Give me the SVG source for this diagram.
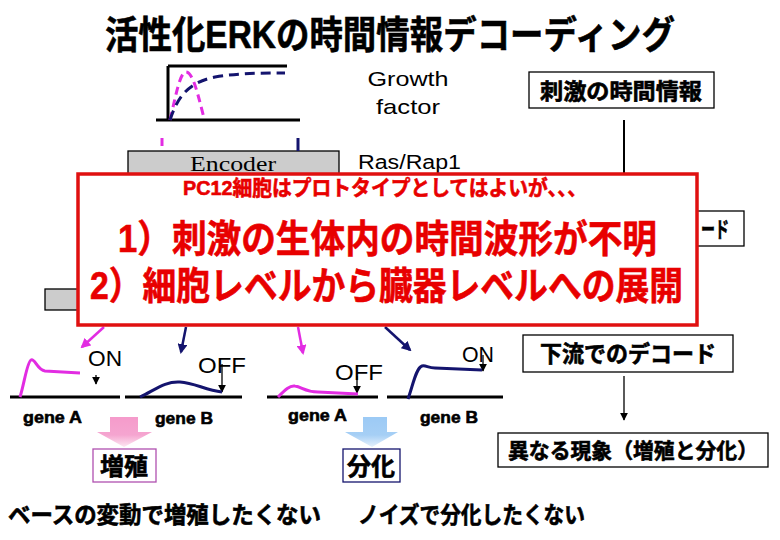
<svg xmlns="http://www.w3.org/2000/svg" width="780" height="540" viewBox="0 0 780 540">
<style>
.jp{font-family:"Liberation Sans","Noto Sans CJK JP",sans-serif;font-weight:bold;stroke:#000;stroke-width:0.6}
.en{font-family:"Liberation Sans","Noto Sans CJK JP",sans-serif}
.box{fill:#fff;stroke:#000;stroke-width:1.3}
.gray{fill:#cccccc;stroke:#000;stroke-width:1.3}
.mag{stroke:#e22ce2;fill:none;stroke-width:3}
.nav{stroke:#14146e;fill:none;stroke-width:3}
.red{fill:#e80000;stroke:#e80000}
.ax{stroke:#000;stroke-width:3}
</style>
<defs>
<marker id="mM" viewBox="0 0 10 10" refX="8" refY="5" markerWidth="4" markerHeight="4" orient="auto"><path d="M0,0 L10,5 L0,10 z" fill="#e22ce2"/></marker>
<marker id="mN" viewBox="0 0 10 10" refX="8" refY="5" markerWidth="4" markerHeight="4" orient="auto"><path d="M0,0 L10,5 L0,10 z" fill="#14146e"/></marker>
<marker id="mK" viewBox="0 0 10 10" refX="9" refY="5" markerWidth="6" markerHeight="6" orient="auto"><path d="M0,0 L10,5 L0,10 z" fill="#000"/></marker>
<linearGradient id="gP" x1="0" y1="0" x2="0" y2="1"><stop offset="0" stop-color="#f59bcb"/><stop offset="0.6" stop-color="#f5a5d0"/><stop offset="1" stop-color="#fde8f2"/></linearGradient>
<linearGradient id="gB" x1="0" y1="0" x2="0" y2="1"><stop offset="0" stop-color="#9ccaf5"/><stop offset="0.6" stop-color="#a6cff5"/><stop offset="1" stop-color="#e6f1fc"/></linearGradient>
</defs>
<rect width="780" height="540" fill="#fff"/>

<text class="jp" x="105" y="48" font-size="38" textLength="570" lengthAdjust="spacingAndGlyphs">活性化ERKの時間情報デコーディング</text>

<g id="stimulus-graph">
<line class="ax" x1="168" y1="66" x2="287" y2="66"/>
<line class="ax" x1="168" y1="66" x2="168" y2="120"/>
<line class="ax" x1="156" y1="120" x2="300" y2="120"/>
<path class="mag" d="M170,120 C176,95 180,72 186,72 C193,72 198,95 204,118" stroke-dasharray="8,5"/>
<path class="nav" d="M170,120 C178,95 190,82 215,77 C240,73 260,73 285,73" stroke-dasharray="10,6"/>
</g>

<g id="growth-factor">
<text class="en" x="408" y="86" font-size="21" text-anchor="middle" textLength="81" lengthAdjust="spacingAndGlyphs">Growth</text>
<text class="en" x="408" y="114" font-size="21" text-anchor="middle" textLength="64" lengthAdjust="spacingAndGlyphs">factor</text>
</g>

<g id="encoder">
<rect class="gray" x="128" y="151" width="211" height="30"/>
<text x="233" y="171" font-family="'Liberation Serif',serif" font-size="21" text-anchor="middle" textLength="86" lengthAdjust="spacingAndGlyphs">Encoder</text>
</g>
<g id="ras">
<text class="en" x="358" y="169" font-size="20" textLength="103" lengthAdjust="spacingAndGlyphs">Ras/Rap1</text>
</g>

<g id="stim-info">
<rect class="box" x="529" y="72" width="185" height="36"/>
<text class="jp" x="621" y="99" font-size="22" text-anchor="middle" textLength="162" lengthAdjust="spacingAndGlyphs">刺激の時間情報</text>
</g>

<g id="upstream-decode">
<rect class="box" x="540" y="211" width="204" height="35"/>
<text class="jp" x="701" y="237" font-size="22" textLength="28" lengthAdjust="spacingAndGlyphs">ード</text>
</g>

<g id="decoder">
<rect class="gray" x="45" y="289" width="300" height="21"/>
</g>

<g id="connectors">
<line x1="624" y1="120" x2="624" y2="176" stroke="#000" stroke-width="2"/>
<line x1="162" y1="138" x2="162" y2="151" stroke="#e22ce2" stroke-width="3" stroke-dasharray="8,5"/>
<line x1="298" y1="138" x2="298" y2="151" stroke="#14146e" stroke-width="3"/>
<line x1="104" y1="327" x2="82" y2="347" stroke="#e22ce2" stroke-width="2.5" marker-end="url(#mM)"/>
<line x1="186" y1="327" x2="181" y2="352" stroke="#14146e" stroke-width="2.5" marker-end="url(#mN)"/>
<line x1="298" y1="327" x2="303" y2="353" stroke="#e22ce2" stroke-width="2.5" marker-end="url(#mM)"/>
<line x1="385" y1="327" x2="410" y2="350" stroke="#14146e" stroke-width="2.5" marker-end="url(#mN)"/>
<line x1="96" y1="375" x2="96" y2="384" stroke="#000" stroke-width="1.3" marker-end="url(#mK)"/>
<line x1="222" y1="364" x2="222" y2="392" stroke="#000" stroke-width="1.3" marker-end="url(#mK)"/>
<line x1="357" y1="376" x2="357" y2="393" stroke="#000" stroke-width="1.3" marker-end="url(#mK)"/>
<line x1="483" y1="355" x2="483" y2="371" stroke="#000" stroke-width="1.3" marker-end="url(#mK)"/>
<line x1="624" y1="376" x2="624" y2="420" stroke="#000" stroke-width="1.3" marker-end="url(#mK)"/>
<polygon points="110,417 138,417 138,432 152,432 124,447 97,432 110,432" fill="url(#gP)"/>
<polygon points="363,417 387,417 387,432 398,432 372,447 345,432 363,432" fill="url(#gB)"/>
</g>

<g id="warning">
<rect x="78" y="174" width="619" height="151" fill="#fff" stroke="#e01010" stroke-width="3.5"/>
<text class="jp red" x="385" y="195" font-size="21" text-anchor="middle" textLength="404" lengthAdjust="spacingAndGlyphs" stroke-width="0.4">PC12細胞はプロトタイプとしてはよいが、、、</text>
<text class="jp red" x="118" y="252" font-size="38" textLength="539" lengthAdjust="spacingAndGlyphs" stroke-width="0.8">1）刺激の生体内の時間波形が不明</text>
<text class="jp red" x="90" y="299" font-size="38" textLength="593" lengthAdjust="spacingAndGlyphs" stroke-width="0.8">2）細胞レベルから臓器レベルへの展開</text>
</g>

<g id="geneA-on">
<line class="ax" x1="10" y1="397" x2="120" y2="397"/>
<path class="mag" d="M20,397 C24,385 27,362 31,360 C35,358 37,370 45,371 L80,373"/>
<text class="en" x="88" y="366" font-size="22" textLength="34" lengthAdjust="spacingAndGlyphs">ON</text>
<text class="jp" x="23" y="423" font-size="17" textLength="59" lengthAdjust="spacingAndGlyphs" stroke-width="0.3">gene A</text>
</g>
<g id="geneB-off">
<line class="ax" x1="125" y1="397" x2="242" y2="397"/>
<path class="nav" d="M140,397 C155,390 165,381 180,382 C195,383 205,390 222,392"/>
<text class="en" x="198" y="373" font-size="22" textLength="48" lengthAdjust="spacingAndGlyphs">OFF</text>
<text class="jp" x="155" y="424" font-size="17" textLength="58" lengthAdjust="spacingAndGlyphs" stroke-width="0.3">gene B</text>
</g>
<g id="geneA-off">
<line class="ax" x1="267" y1="397" x2="378" y2="397"/>
<path class="mag" d="M278,397 C285,390 290,385 295,386 C302,387 305,392 318,392 L358,394"/>
<text class="en" x="335" y="380" font-size="22" textLength="48" lengthAdjust="spacingAndGlyphs">OFF</text>
<text class="jp" x="288" y="421" font-size="17" textLength="59" lengthAdjust="spacingAndGlyphs" stroke-width="0.3">gene A</text>
</g>
<g id="geneB-on">
<line class="ax" x1="387" y1="397" x2="503" y2="397"/>
<path class="nav" d="M408,399 C413,385 416,368 422,366 C426,365 428,368 435,368 L482,370"/>
<text class="en" x="462" y="362" font-size="22" textLength="32" lengthAdjust="spacingAndGlyphs">ON</text>
<text class="jp" x="420" y="423" font-size="17" textLength="58" lengthAdjust="spacingAndGlyphs" stroke-width="0.3">gene B</text>
</g>

<g id="downstream-decode">
<rect class="box" x="523" y="335" width="210" height="37"/>
<text class="jp" x="628" y="362" font-size="23" text-anchor="middle" textLength="176" lengthAdjust="spacingAndGlyphs">下流でのデコード</text>
</g>
<g id="phenomena">
<rect class="box" x="498" y="433" width="270" height="34"/>
<text class="jp" x="633" y="458" font-size="21" text-anchor="middle" textLength="250" lengthAdjust="spacingAndGlyphs">異なる現象（増殖と分化）</text>
</g>
<g id="proliferation">
<rect x="93" y="449" width="63" height="33" fill="#fff" stroke="#b050b0" stroke-width="1.3"/>
<text class="jp" x="124" y="475" font-size="24" text-anchor="middle">増殖</text>
</g>
<g id="differentiation">
<rect x="343" y="449" width="57" height="33" fill="#fff" stroke="#14146e" stroke-width="1.3"/>
<text class="jp" x="371" y="475" font-size="24" text-anchor="middle">分化</text>
</g>
<text class="jp" x="8" y="523" font-size="23" textLength="313" lengthAdjust="spacingAndGlyphs">ベースの変動で増殖したくない</text>
<text class="jp" x="358" y="523" font-size="23" textLength="227" lengthAdjust="spacingAndGlyphs">ノイズで分化したくない</text>
</svg>
